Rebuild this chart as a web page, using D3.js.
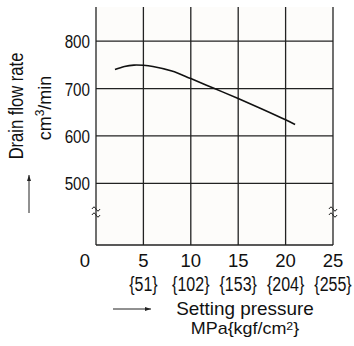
<!DOCTYPE html>
<html><head><meta charset="utf-8">
<script src="https://cdn.jsdelivr.net/npm/d3@7"></script>
<style>body{margin:0;background:#fff}svg{display:block}text{font-family:"Liberation Sans",Arial,sans-serif;fill:#111}</style>
</head><body><svg id="c" width="354" height="346"></svg>
<script>
const pressure = [2, 3, 4, 5, 6, 8, 10, 12.5, 15, 17.5, 20, 21];
const drainFlow = [740, 746.5, 749.5, 749, 746.5, 737, 721, 700, 679, 657, 634, 624];
const xTicks = [0, 5, 10, 15, 20, 25];
const xSubLabels = ["", "{51}", "{102}", "{153}", "{204}", "{255}"];
const yTicks = [500, 600, 700, 800];

const svg = d3.select("#c");
const x = d3.scaleLinear().domain([0, 25]).range([96, 333]);
const y = d3.scaleLinear().domain([370, 872]).range([245, 7]);

svg.append("rect").attr("x", x(0)).attr("y", y(872)).attr("width", x(25) - x(0)).attr("height", y(370) - y(872)).attr("fill", "#fdfcfa");

svg.selectAll(".hg").data(yTicks).join("line")
  .attr("x1", x(0)).attr("x2", x(25)).attr("y1", d => y(d)).attr("y2", d => y(d))
  .attr("stroke", "#222").attr("stroke-width", 1.3);
svg.selectAll(".vg").data(xTicks).join("line")
  .attr("x1", d => x(d)).attr("x2", d => x(d)).attr("y1", y(872)).attr("y2", y(370))
  .attr("stroke", "#222").attr("stroke-width", 1.3);
svg.append("line").attr("x1", x(0)).attr("x2", x(25)).attr("y1", y(370)).attr("y2", y(370)).attr("stroke", "#222").attr("stroke-width", 1.3);

function brk(cx, cy) {
  [-3, 3].forEach(off => {
    svg.append("path")
      .attr("d", `M${cx-4},${cy+off+1} q2,-4 4,0 t4,0`)
      .attr("fill", "none").attr("stroke", "#222").attr("stroke-width", 1);
  });
}
brk(x(0), 211);
brk(x(25), 211);

svg.append("path").datum(pressure.map((p, i) => [p, drainFlow[i]]))
  .attr("d", d3.line().x(d => x(d[0])).y(d => y(d[1])).curve(d3.curveCatmullRom))
  .attr("fill", "none").attr("stroke", "#111").attr("stroke-width", 1.6);

svg.selectAll(".yl").data(yTicks).join("text")
  .attr("text-anchor", "end").attr("font-size", 19)
  .attr("transform", d => `translate(90,${y(d) + 7}) scale(0.8,1)`).text(d => d);

svg.selectAll(".xl").data(xTicks).join("text")
  .attr("x", d => d === 0 ? 85 : x(d)).attr("y", 267).attr("text-anchor", "middle")
  .attr("font-size", 18.5).text(d => d);
svg.selectAll(".xs").data(xTicks.slice(1)).join("text")
  .attr("text-anchor", "middle").attr("font-size", 20)
  .attr("transform", d => `translate(${x(d)},291) scale(0.8,1)`)
  .text((d, i) => xSubLabels[i + 1]);

svg.append("text").attr("text-anchor", "middle").attr("font-size", 17.5)
  .attr("transform", "translate(245,315) scale(1.08,1)").text("Setting pressure");
const t2 = svg.append("text").attr("text-anchor", "middle").attr("font-size", 16)
  .attr("transform", "translate(245,334) scale(1.12,1)");
t2.append("tspan").text("MPa{kgf/cm");
t2.append("tspan").attr("font-size", 11).attr("dy", -4).text("2");
t2.append("tspan").attr("dy", 4).text("}");

function arrow(x1, y1, x2, y2) {
  svg.append("line").attr("x1", x1).attr("y1", y1).attr("x2", x2).attr("y2", y2).attr("stroke", "#222").attr("stroke-width", 1);
  const a = Math.atan2(y2 - y1, x2 - x1);
  const L = 6, W = 2;
  const px = x2 - L * Math.cos(a), py = y2 - L * Math.sin(a);
  svg.append("path").attr("d", `M${x2},${y2} L${px - W*Math.sin(a)},${py + W*Math.cos(a)} L${px + W*Math.sin(a)},${py - W*Math.cos(a)} Z`).attr("fill", "#222");
}
arrow(113, 309, 151, 309);
arrow(29, 213, 29, 175);

svg.append("text").attr("transform", "translate(23,106) rotate(-90) scale(0.85,1)").attr("text-anchor", "middle").attr("font-size", 19.5).text("Drain flow rate");
const t3 = svg.append("text").attr("transform", "translate(51,108) rotate(-90)").attr("text-anchor", "middle").attr("font-size", 18);
t3.append("tspan").text("cm");
t3.append("tspan").attr("font-size", 12).attr("dy", -7).text("3");
t3.append("tspan").attr("dy", 7).text("/min");
</script></body></html>
